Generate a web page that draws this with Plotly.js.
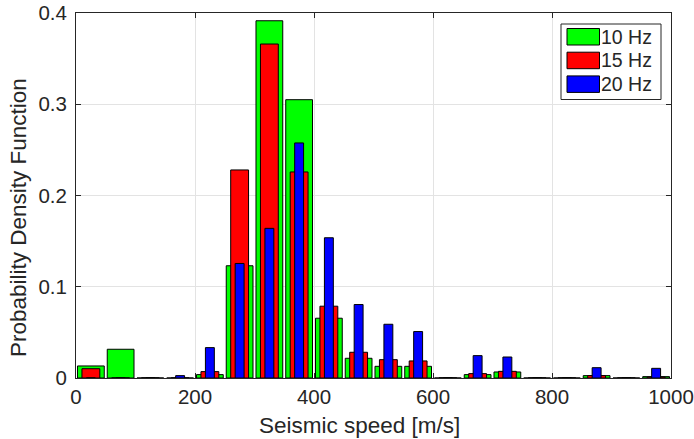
<!DOCTYPE html>
<html>
<head>
<meta charset="utf-8">
<script src="https://cdn.plot.ly/plotly-3.0.1.min.js"></script>
<style>html,body{margin:0;padding:0;background:#fff;}#chart{width:694px;height:439px;}</style>
</head>
<body>
<div id="chart"></div>
<script>
// Bin centers (m/s), bin width 50
const binCenters = [25, 75, 125, 175, 225, 275, 325, 375, 425, 475, 525, 575, 625, 675, 725, 775, 825, 875, 925, 975];
const seriesNames = ["10 Hz", "15 Hz", "20 Hz"];
const pdf10Hz = [0.0132, 0.0315, 0, 0, 0.0037, 0.123, 0.3915, 0.305, 0.0655, 0.0216, 0.0128, 0.0128, 0, 0.0037, 0.0066, 0, 0, 0.0026, 0, 0.0015];
const pdf15Hz = [0.0102, 0, 0, 0, 0.0070, 0.228, 0.366, 0.2258, 0.0787, 0.0282, 0.0201, 0.0187, 0, 0.0048, 0.0073, 0, 0, 0.0026, 0, 0.0010];
const pdf20Hz = [0, 0, 0, 0.0026, 0.0333, 0.1255, 0.164, 0.2576, 0.1537, 0.0805, 0.0589, 0.0509, 0, 0.0245, 0.023, 0, 0, 0.0113, 0, 0.0106];
const xTicks = [0, 200, 400, 600, 800, 1000];
const yTicks = [0, 0.1, 0.2, 0.3, 0.4];
const yTickText = ["0", "0.1", "0.2", "0.3", "0.4"];
const xTitle = "Seismic speed [m/s]";
const yTitle = "Probability Density Function";

const colors = ["#00ff00", "#ff0000", "#0000ff"];
const widths = [45, 30, 15];
const values = [pdf10Hz, pdf15Hz, pdf20Hz];

const traces = values.map((v, i) => ({
  type: "bar",
  x: binCenters,
  y: v,
  name: seriesNames[i],
  width: widths[i],
  marker: {color: colors[i], line: {color: "#000000", width: 1}},
  showlegend: false,
  hoverinfo: "x+y+name"
}));

const font = {family: "Liberation Sans, Arial, Helvetica, sans-serif", color: "#262626"};
const W = 694, H = 439, ML = 76, MR = 23, MT = 13, MB = 61;
const PW = W - ML - MR, PH = H - MT - MB;
const px2x = p => (p - ML) / PW;
const py2y = p => 1 - (p - MT) / PH;

// custom legend (MATLAB-like big patches)
const shapes = [{type: "rect", xref: "paper", yref: "paper", x0: px2x(561), x1: px2x(661), y0: py2y(99.5), y1: py2y(24),
  line: {color: "#262626", width: 1}, fillcolor: "#ffffff"}];
const annotations = [];
seriesNames.forEach((n, i) => {
  const topPx = 28.5 + i * 23.7;
  const y1 = py2y(topPx), y0 = py2y(topPx + 16.5);
  shapes.push({type: "rect", xref: "paper", yref: "paper", x0: px2x(567), x1: px2x(599.5), y0: y0, y1: y1,
    line: {color: "#000000", width: 1}, fillcolor: colors[i]});
  annotations.push({xref: "paper", yref: "paper", x: px2x(599), y: (y0 + y1) / 2, xanchor: "left", yanchor: "middle",
    text: n, showarrow: false, font: Object.assign({size: 19.5}, font)});
});
// axis titles
annotations.push({xref: "paper", yref: "paper", x: px2x(359.5), y: py2y(426), xanchor: "center", yanchor: "middle",
  text: xTitle, showarrow: false, font: Object.assign({size: 22.5}, font)});
annotations.push({xref: "paper", yref: "paper", x: px2x(18), y: py2y(218), xanchor: "center", yanchor: "middle",
  text: yTitle, textangle: -90, showarrow: false, font: Object.assign({size: 22.5}, font)});

const layout = {
  width: W, height: H,
  margin: {l: ML, r: MR, t: MT, b: MB, pad: 0},
  paper_bgcolor: "#ffffff", plot_bgcolor: "#ffffff",
  barmode: "overlay",
  font: Object.assign({size: 20}, font),
  xaxis: {
    range: [0, 1000], tickvals: xTicks, ticktext: xTicks.map(String),
    ticks: "inside", ticklen: 5, tickcolor: "#262626",
    showline: true, linecolor: "#262626", linewidth: 1, mirror: "ticks",
    showgrid: true, gridcolor: "#e3e3e3", gridwidth: 1, zeroline: false,
    tickfont: Object.assign({size: 20.5}, font)
  },
  yaxis: {
    range: [0, 0.4], tickvals: yTicks, ticktext: yTickText,
    ticks: "inside", ticklen: 5, tickcolor: "#262626",
    showline: true, linecolor: "#262626", linewidth: 1, mirror: "ticks",
    showgrid: true, gridcolor: "#e3e3e3", gridwidth: 1, zeroline: false,
    tickfont: Object.assign({size: 20.5}, font),
    ticklabelstandoff: 4
  },
  shapes: shapes,
  annotations: annotations
};

Plotly.newPlot("chart", traces, layout, {displayModeBar: false, staticPlot: true});
</script>
</body>
</html>
